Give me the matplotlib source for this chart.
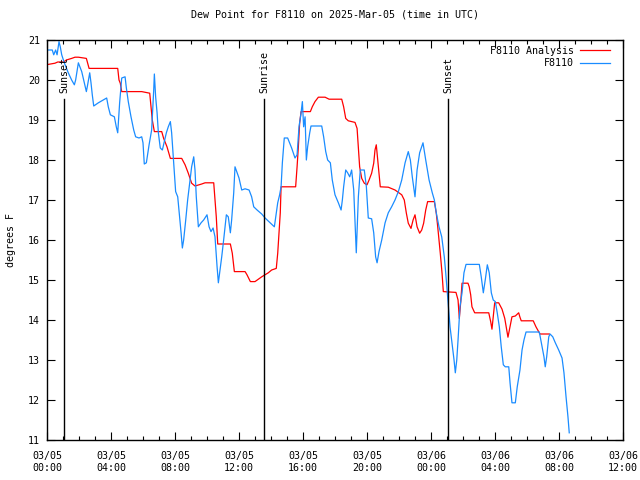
import matplotlib
matplotlib.use('Agg')
import matplotlib.pyplot as plt
import matplotlib.dates as mdates
import numpy as np
import pandas as pd

# hours after 2025-03-05 00:00 UTC, dew point in F
obs_hours = [0.08, 0.33, 0.42, 0.54, 0.63, 0.75, 0.83, 0.92, 1.08, 1.33, 1.54, 1.71, 1.79, 1.96,
             2.17, 2.33, 2.46, 2.54, 2.67, 2.75, 2.83, 2.92, 3.21, 3.73, 3.83, 3.96, 4.21, 4.33,
             4.42, 4.54, 4.67, 4.88, 4.96, 5.08, 5.25, 5.42, 5.54, 5.75, 5.92, 6.0, 6.08, 6.21,
             6.38, 6.54, 6.67, 6.71, 6.79, 6.88, 6.96, 7.08, 7.21, 7.33, 7.46, 7.58, 7.71, 7.79,
             7.92, 8.04, 8.17, 8.29, 8.38, 8.46, 8.54, 8.67, 8.79, 8.92, 9.04, 9.17, 9.25, 9.33,
             9.46, 9.63, 9.79, 10.0, 10.13, 10.25, 10.38, 10.5, 10.63, 10.71, 10.79, 10.92, 11.04,
             11.21, 11.33, 11.46, 11.54, 11.67, 11.75, 11.88, 12.0, 12.17, 12.38, 12.63, 12.79,
             12.92, 13.13, 13.42, 13.63, 14.21, 14.33, 14.42, 14.54, 14.63, 14.71, 14.83, 15.04,
             15.29, 15.5, 15.63, 15.75, 15.88, 15.96, 16.04, 16.13, 16.21, 16.29, 16.42, 16.5,
             17.17, 17.29, 17.42, 17.54, 17.71, 17.83, 18.0, 18.21, 18.38, 18.46, 18.54, 18.67,
             18.79, 18.92, 19.04, 19.17, 19.25, 19.33, 19.46, 19.58, 19.83, 19.96, 20.08, 20.29,
             20.42, 20.54, 20.63, 20.75, 20.92, 21.13, 21.33, 21.54, 21.75, 21.96, 22.17, 22.38,
             22.58, 22.71, 22.83, 23.0, 23.13, 23.29, 23.5, 23.67, 23.88, 24.08, 24.21, 24.33,
             24.5, 24.67, 24.83, 24.92, 25.04, 25.11, 25.19, 25.31, 25.44, 25.52, 25.61, 25.69,
             25.81, 25.94, 26.06, 26.19, 27.02, 27.14, 27.27, 27.39, 27.52, 27.64, 27.77, 27.89,
             28.02, 28.14, 28.27, 28.39, 28.52, 28.64, 28.86, 28.94, 29.06, 29.27, 29.39, 29.56,
             29.69, 29.81, 29.94, 30.77, 30.94, 31.06, 31.14, 31.23, 31.36, 31.44, 31.61, 31.77,
             31.98, 32.19, 32.31, 32.44, 32.56, 32.64]
obs_dewp = [20.75, 20.75, 20.63, 20.75, 20.63, 20.96, 20.83, 20.63, 20.43, 20.18, 20.0, 19.88, 20.0, 20.43,
            20.21, 19.93, 19.71, 19.88, 20.18, 19.93, 19.63, 19.35, 19.43, 19.55, 19.33, 19.13, 19.08, 18.83,
            18.68, 19.43, 20.05, 20.08, 19.8, 19.46, 19.08, 18.75, 18.58, 18.55, 18.58, 18.43, 17.9, 17.93,
            18.38, 18.75, 19.75, 20.15, 19.58, 19.18, 18.68, 18.3, 18.25, 18.46, 18.68, 18.83, 18.96, 18.68,
            17.93, 17.21, 17.08, 16.58, 16.18, 15.8, 16.0, 16.5, 17.0, 17.43, 17.83, 18.08, 17.75, 17.08,
            16.33, 16.43, 16.5, 16.63, 16.33, 16.21, 16.3, 16.08, 15.33, 14.93, 15.18, 15.58, 16.0,
            16.63, 16.58, 16.18, 16.5, 17.18, 17.83, 17.68, 17.55, 17.25, 17.28, 17.25, 17.08,
            16.83, 16.75, 16.65, 16.55, 16.33, 16.68, 16.93, 17.13, 17.33, 17.93, 18.55, 18.55,
            18.3, 18.05, 18.13, 18.83, 19.18, 19.46, 18.83, 19.08, 18.0, 18.33, 18.68, 18.85,
            18.85, 18.58, 18.21, 18.0, 17.93, 17.5, 17.13, 16.93, 16.75, 17.0, 17.33, 17.75,
            17.68, 17.58, 17.75, 17.25, 16.43, 15.68, 17.08, 17.75, 17.75, 17.33, 16.55, 16.53,
            16.18, 15.58, 15.43, 15.71, 16.0, 16.43, 16.68, 16.83, 17.0, 17.21, 17.5, 17.93,
            18.21, 18.0, 17.58, 17.08, 17.75, 18.18, 18.43, 18.0, 17.5, 17.18, 17.0, 16.68,
            16.33, 16.08, 15.58, 15.18, 14.58, 14.25, 13.83, 13.43, 13.0, 12.68, 13.0, 13.5,
            14.33, 14.68, 15.18, 15.39, 15.39, 15.08, 14.68, 15.0, 15.38, 15.18, 14.68, 14.5,
            14.46, 14.18, 13.83, 13.33, 12.88, 12.83, 12.83, 12.43, 11.93, 11.93, 12.33, 12.75,
            13.25, 13.5, 13.7, 13.7, 13.33, 13.08, 12.83, 13.08, 13.58, 13.65, 13.58, 13.43,
            13.25, 13.05, 12.68, 12.08, 11.58, 11.18]

ana_hours = [0.08, 0.5, 0.67, 1.04, 1.21, 1.54, 1.75, 1.96, 2.46, 2.54, 2.63, 4.42, 4.5, 4.58, 4.67,
             5.92, 6.42, 6.5, 6.58, 6.71, 7.17, 7.29, 7.5, 7.71, 8.42, 8.63, 8.83, 9.04, 9.25,
             9.67, 9.88, 10.42, 10.5, 10.58, 10.67, 11.46, 11.58, 11.71, 12.38, 12.5, 12.71, 13.0,
             13.42, 13.63, 13.83, 14.04, 14.33, 14.42, 14.5, 14.58, 14.63, 15.54, 15.63, 15.71,
             15.79, 15.88, 16.46, 16.58, 16.75, 16.96, 17.38, 17.63, 18.42, 18.54, 18.67, 18.83,
             19.25, 19.38, 19.46, 19.54, 19.67, 19.83, 20.0, 20.13, 20.29, 20.42, 20.5, 20.58,
             20.67, 20.75, 20.83, 21.33, 21.75, 22.17, 22.33, 22.46, 22.58, 22.75, 22.88, 23.0,
             23.13, 23.29, 23.42, 23.54, 23.67, 23.79, 24.21, 24.33, 24.42, 24.5, 24.58, 24.69,
             24.77, 25.56, 25.69, 25.77, 25.86, 25.94, 26.31, 26.39, 26.48, 26.56, 26.73, 27.61,
             27.73, 27.81, 27.89, 27.98, 28.23, 28.44, 28.61, 28.73, 28.81, 28.94, 29.06, 29.27,
             29.48, 29.56, 29.64, 30.39, 30.56, 30.81, 31.39]
ana_dewp = [20.39, 20.42, 20.45, 20.45, 20.5, 20.54, 20.57, 20.57, 20.54, 20.42, 20.29, 20.29, 20.0, 19.92, 19.71,
            19.71, 19.67, 19.33, 19.0, 18.71, 18.71, 18.54, 18.33, 18.04, 18.04, 17.88, 17.67, 17.42, 17.35,
            17.4, 17.43, 17.43, 17.0, 16.58, 15.9, 15.9, 15.67, 15.21, 15.21, 15.13, 14.96, 14.96,
            15.08, 15.13, 15.18, 15.25, 15.29, 15.67, 16.18, 16.68, 17.33, 17.33, 17.83, 18.33,
            18.92, 19.21, 19.21, 19.33, 19.46, 19.57, 19.57, 19.52, 19.52, 19.33, 19.04, 18.98,
            18.94, 18.79, 18.33, 17.83, 17.54, 17.42, 17.38, 17.5, 17.67, 17.92, 18.25, 18.38,
            18.0, 17.67, 17.33, 17.32, 17.25, 17.13, 17.0, 16.67, 16.42, 16.29, 16.5, 16.63,
            16.33, 16.17, 16.25, 16.42, 16.75, 16.96, 16.96, 16.67, 16.33, 16.0, 15.67, 15.17,
            14.71, 14.69, 14.5, 14.04, 14.46, 14.92, 14.92, 14.83, 14.63, 14.33, 14.18, 14.18,
            13.96, 13.77, 14.08, 14.43, 14.43, 14.27, 14.04, 13.75, 13.57, 13.83, 14.08, 14.1,
            14.18, 14.07, 13.98, 13.98, 13.83, 13.65, 13.65]

sun_times = ['2025-03-05 01:05', '2025-03-05 13:35', '2025-03-06 01:05']
sun_labels = ['Sunset', 'Sunrise', 'Sunset']

start = pd.Timestamp('2025-03-05 00:00')
obs_t = start + pd.to_timedelta(obs_hours, unit='h')
ana_t = start + pd.to_timedelta(ana_hours, unit='h')

font = 'DejaVu Sans Mono'
fs = 7.2
plt.rcParams['font.family'] = font
plt.rcParams['font.size'] = fs

fig = plt.figure(figsize=(6.4, 4.8), dpi=100)
ax = fig.add_axes([47 / 640, 40 / 480, 576 / 640, 400 / 480])

ax.plot(ana_t, ana_dewp, color='#ff0000', lw=0.9, label='F8110 Analysis')
ax.plot(obs_t, obs_dewp, color='#1a8cff', lw=0.9, label='F8110')

for t, lab in zip(sun_times, sun_labels):
    tt = pd.Timestamp(t)
    ax.plot([tt, tt], [11, 19.52], color='black', lw=1.0)
    ax.text(tt, 19.68, lab, rotation=90, ha='center', va='bottom', fontsize=fs)

ax.set_xlim(start, start + pd.Timedelta(hours=36))
ax.set_ylim(11, 21)
ax.xaxis.set_major_locator(mdates.HourLocator(byhour=[0, 4, 8, 12, 16, 20]))
ax.xaxis.set_minor_locator(mdates.HourLocator())
ax.xaxis.set_major_formatter(mdates.DateFormatter('%m/%d\n%H:%M'))
ax.set_yticks(np.arange(11, 22, 1))

ax.tick_params(which='both', direction='in', top=True, right=True, width=0.8)
ax.tick_params(which='major', length=6)
ax.tick_params(which='minor', length=3)
ax.tick_params(axis='x', pad=8)
ax.tick_params(axis='y', pad=5)
for s in ax.spines.values():
    s.set_linewidth(1.0)

ax.set_ylabel('degrees F', labelpad=9)
ax.set_title('Dew Point for F8110 on 2025-Mar-05 (time in UTC)', fontsize=fs, pad=16)

ax.legend(loc='upper right', bbox_to_anchor=(0.985, 0.995), frameon=False, markerfirst=False,
          handlelength=3.0, handletextpad=0.6, labelspacing=0.25, borderaxespad=0, fontsize=fs)

fig.savefig('out.png', dpi=100)
